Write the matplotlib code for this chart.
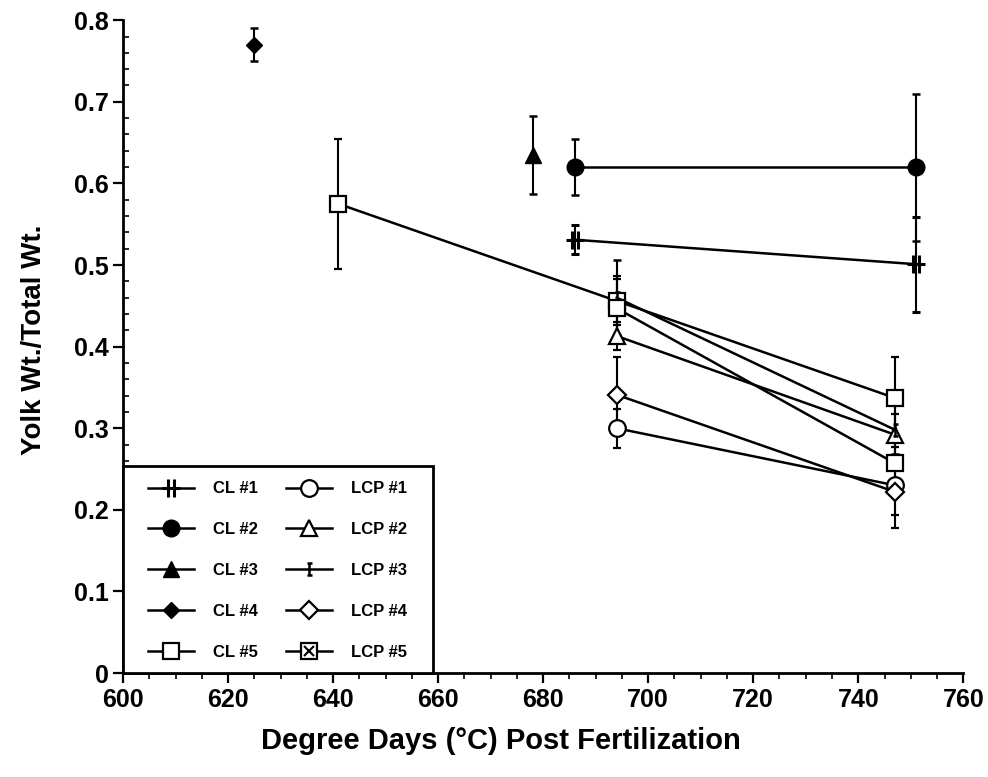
import numpy as np
import matplotlib
matplotlib.use("Agg")
import matplotlib.pyplot as plt
from matplotlib.path import Path
from matplotlib.patches import Rectangle
from matplotlib.ticker import MultipleLocator, FuncFormatter
from matplotlib.legend_handler import HandlerTuple

# data (degree days, yolk wt / total wt, +/- error)
cl1_x = [686, 751]
cl1_y = [0.531, 0.501]
cl1_e = [0.018, 0.058]

cl2_x = [686, 751]
cl2_y = [0.620, 0.620]
cl2_e = [0.034, 0.090]

cl3_x = [678]
cl3_y = [0.635]
cl3_e = [0.048]

cl4_x = [625]
cl4_y = [0.770]
cl4_e = [0.020]

cl5_x = [641, 694, 747]
cl5_y = [0.575, 0.456, 0.337]
cl5_e = [0.080, 0.030, 0.050]

lcp1_x = [694, 747]
lcp1_y = [0.300, 0.230]
lcp1_e = [0.024, 0.036]

lcp2_x = [694, 747]
lcp2_y = [0.413, 0.292]
lcp2_e = [0.017, 0.026]

lcp3_x = [694, 747]
lcp3_y = [0.460, 0.298]
lcp3_e = [0.046, 0.030]

lcp4_x = [694, 747]
lcp4_y = [0.341, 0.222]
lcp4_e = [0.046, 0.044]

lcp5_x = [694, 747]
lcp5_y = [0.447, 0.257]
lcp5_e = [0.036, 0.020]

xticks = [600, 620, 640, 660, 680, 700, 720, 740, 760]
yticks = [0, 0.1, 0.2, 0.3, 0.4, 0.5, 0.6, 0.7, 0.8]

# custom marker shapes
hash_mark = Path([(-0.35, -1), (-0.35, 1), (0.35, -1), (0.35, 1), (-1, 0), (1, 0)],
                 [Path.MOVETO, Path.LINETO, Path.MOVETO, Path.LINETO, Path.MOVETO, Path.LINETO])
cap_mark = Path([(0, -1), (0, 1), (-0.4, 1), (0.4, 1), (-0.4, -1), (0.4, -1)],
                [Path.MOVETO, Path.LINETO, Path.MOVETO, Path.LINETO, Path.MOVETO, Path.LINETO])

plt.rcParams['font.family'] = ['Liberation Sans', 'DejaVu Sans']
plt.rcParams['font.weight'] = 'bold'

fig = plt.figure(figsize=(9.88, 7.77), dpi=100)
ax = fig.add_axes([0.1245, 0.1338, 0.8505, 0.8402])

lw = 1.8
eb = dict(ecolor='black', elinewidth=1.5, capsize=3, capthick=1.8, color='black', lw=lw)

h_cl1 = ax.errorbar(cl1_x, cl1_y, yerr=cl1_e, marker=hash_mark, ms=13, mew=2.2, **eb)
h_cl2 = ax.errorbar(cl2_x, cl2_y, yerr=cl2_e, marker='o', ms=12, mfc='black', **eb)
h_cl3 = ax.errorbar(cl3_x, cl3_y, yerr=cl3_e, marker='^', ms=12, mfc='black', **eb)
h_cl4 = ax.errorbar(cl4_x, cl4_y, yerr=cl4_e, marker='D', ms=8, mfc='black', **eb)
h_cl5 = ax.errorbar(cl5_x, cl5_y, yerr=cl5_e, marker='s', ms=11, mfc='white', mew=1.6, **eb)
h_l1 = ax.errorbar(lcp1_x, lcp1_y, yerr=lcp1_e, marker='o', ms=12, mfc='white', mew=1.6, **eb)
h_l2 = ax.errorbar(lcp2_x, lcp2_y, yerr=lcp2_e, marker='^', ms=12, mfc='white', mew=1.6, **eb)
h_l3 = ax.errorbar(lcp3_x, lcp3_y, yerr=lcp3_e, marker=cap_mark, ms=9, mew=1.8, **eb)
h_l4 = ax.errorbar(lcp4_x, lcp4_y, yerr=lcp4_e, marker='D', ms=9, mfc='white', mew=1.6, **eb)
h_l5 = ax.errorbar(lcp5_x, lcp5_y, yerr=lcp5_e, marker='s', ms=11, mfc='white', mew=1.6, **eb)
h_l5x, = ax.plot(lcp5_x, lcp5_y, ls='none', marker='x', ms=7, mew=1.5, color='black')

ax.set_xlim(600, 760)
ax.set_ylim(0, 0.8)
ax.set_xticks(xticks)
ax.set_yticks(yticks)
ax.xaxis.set_minor_locator(MultipleLocator(5))
ax.yaxis.set_minor_locator(MultipleLocator(0.02))
ax.yaxis.set_major_formatter(FuncFormatter(lambda v, p: '0' if v == 0 else f'{v:.1f}'))
ax.tick_params(which='major', direction='out', length=7, width=1.6, labelsize=18)
ax.tick_params(axis='y', which='minor', direction='in', length=4, width=1.2)
ax.tick_params(axis='x', which='minor', direction='out', length=4, width=1.2)
for s in ['top', 'right']:
    ax.spines[s].set_visible(False)
for s in ['left', 'bottom']:
    ax.spines[s].set_linewidth(2)

ax.set_xlabel('Degree Days (°C) Post Fertilization', fontsize=21, fontweight='bold')
ax.xaxis.set_label_coords(0.45, -0.083)
ax.set_ylabel('Yolk Wt./Total Wt.', fontsize=20, fontweight='bold')
ax.yaxis.set_label_coords(-0.091, 0.51)

# legend box drawn separately so padding matches the original
ax.add_patch(Rectangle((0, 0), 0.369, 0.317, transform=ax.transAxes, facecolor='white',
                       edgecolor='black', lw=2, zorder=4, clip_on=False))

# legend shows plain line + marker, no error bars
handles = [h_cl1[0], h_cl2[0], h_cl3[0], h_cl4[0], h_cl5[0],
           h_l1[0], h_l2[0], h_l3[0], h_l4[0], (h_l5[0], h_l5x)]
labels = ['CL #1', 'CL #2', 'CL #3', 'CL #4', 'CL #5',
          'LCP #1', 'LCP #2', 'LCP #3', 'LCP #4', 'LCP #5']
leg = ax.legend(handles, labels, ncol=2, loc='center', bbox_to_anchor=(0.184, 0.157),
                borderaxespad=0, borderpad=0, frameon=False,
                prop={'weight': 'bold', 'size': 12}, handlelength=2.76, labelspacing=1.55,
                columnspacing=1.68, handletextpad=1.14,
                handler_map={tuple: HandlerTuple(ndivide=1)})
leg.set_zorder(5)

fig.savefig('out.png', dpi=100)
